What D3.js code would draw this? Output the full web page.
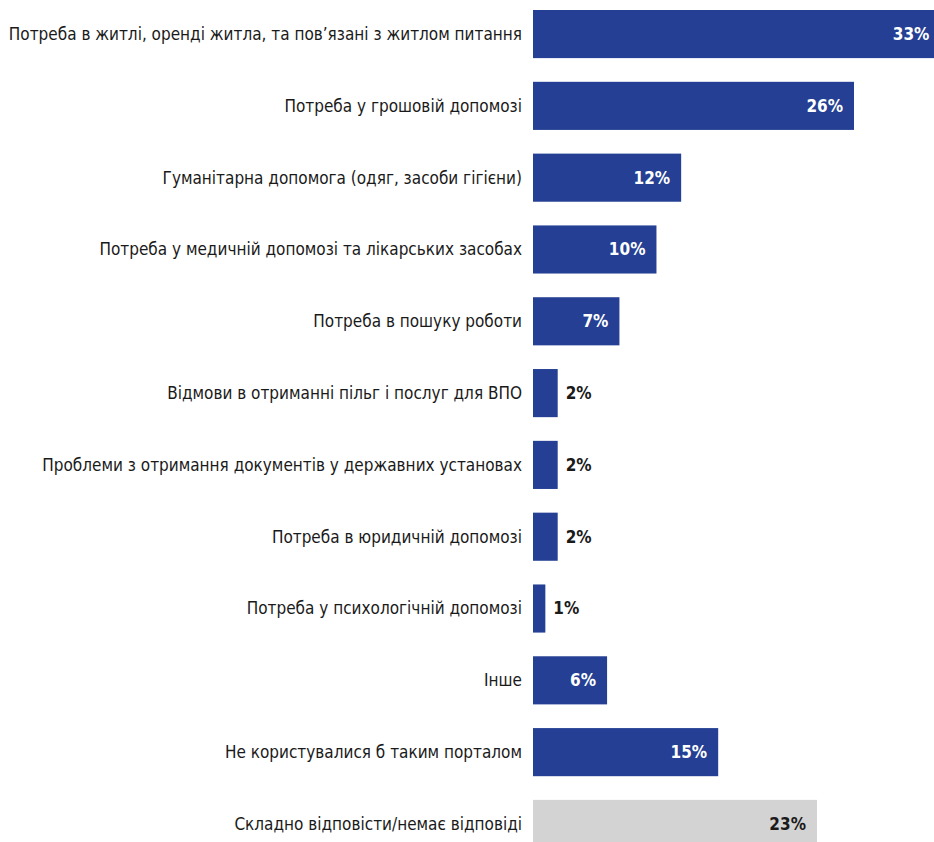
<!DOCTYPE html>
<html lang="uk">
  <head>
    <meta charset="UTF-8" />
    <title>Потреби</title>
    <script src="https://d3js.org/d3.v7.min.js"></script>
    <style>
      body { margin: 0; background: #fff; }
      svg { display: block; }
      text { font-family: "Liberation Sans Narrow", "DejaVu Sans Condensed", sans-serif; }
    </style>
  </head>
  <body>
    <svg width="934" height="842"></svg>

    <script>
      const categories = [
        "Потреба в житлі, оренді житла, та пов’язані з житлом питання",
        "Потреба у грошовій допомозі",
        "Гуманітарна допомога (одяг, засоби гігієни)",
        "Потреба у медичній допомозі та лікарських засобах",
        "Потреба в пошуку роботи",
        "Відмови в отриманні пільг і послуг для ВПО",
        "Проблеми з отримання документів у державних установах",
        "Потреба в юридичній допомозі",
        "Потреба у психологічній допомозі",
        "Інше",
        "Не користувалися б таким порталом",
        "Складно відповісти/немає відповіді"
      ];
      const values = [33, 26, 12, 10, 7, 2, 2, 2, 1, 6, 15, 23];
      const greyRows = ["Складно відповісти/немає відповіді"];

      const svg = d3.select("svg");

      const x = d3.scaleLinear().domain([0, 26]).range([533, 854]);
      const y = d3
        .scaleBand()
        .domain(categories)
        .range([10, 848])
        .paddingInner(0.33)
        .paddingOuter(0);

      const data = categories.map((c, i) => ({ cat: c, val: values[i] }));

      const row = svg
        .selectAll("g.row")
        .data(data)
        .join("g")
        .attr("class", "row");

      row
        .append("rect")
        .attr("x", x(0))
        .attr("y", (d) => y(d.cat))
        .attr("width", (d) => x(d.val) - x(0))
        .attr("height", y.bandwidth())
        .attr("fill", (d) => (greyRows.includes(d.cat) ? "#d3d3d3" : "#243f93"));

      // підписи категорій
      row
        .append("text")
        .attr("x", x(0) - 11)
        .attr("y", (d) => y(d.cat) + y.bandwidth() / 2)
        .attr("dy", "0.35em")
        .attr("text-anchor", "end")
        .attr("font-size", 17)
        .attr("fill", "#1a1a1a")
        .text((d) => d.cat);

      // відсотки: всередині стовпця або поруч, якщо стовпець вузький
      row
        .append("text")
        .attr("x", (d) => (d.val < 5 ? x(d.val) + 8 : x(d.val) - 11))
        .attr("y", (d) => y(d.cat) + y.bandwidth() / 2)
        .attr("dy", "0.35em")
        .attr("text-anchor", (d) => (d.val < 5 ? "start" : "end"))
        .attr("font-size", 17)
        .attr("font-weight", "bold")
        .attr("fill", (d) =>
          d.val < 5 || greyRows.includes(d.cat) ? "#1a1a1a" : "#ffffff"
        )
        .text((d) => d.val + "%");
    </script>
  </body>
</html>
